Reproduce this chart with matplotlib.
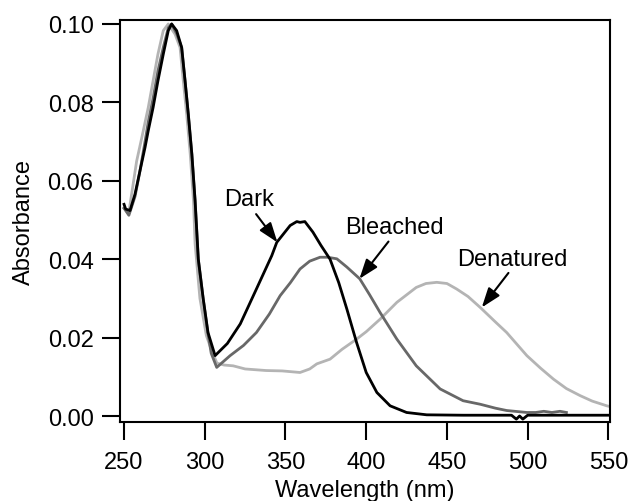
import matplotlib
matplotlib.use('Agg')
import matplotlib.pyplot as plt

plt.rcParams['font.family'] = ['Liberation Sans', 'DejaVu Sans']
plt.rcParams['font.size'] = 17

# Dark spectrum
wl_dark = [250, 251, 253.7, 256.8, 259.9, 263, 265, 268, 271, 274.3, 277.4, 279.5,
           282.6, 285.7, 287.8, 289.8, 292, 294, 296, 299, 302, 306.4, 314, 322,
           332, 341.5, 344.6, 352.9, 357, 359, 362, 367, 372, 377.6, 383, 388, 394,
           400, 406.6, 414.8, 425, 437.5, 460, 490, 493, 495, 497, 500, 550]
abs_dark = [0.054, 0.0528, 0.0524, 0.0566, 0.0626, 0.0685, 0.0728, 0.0787, 0.0855,
            0.0923, 0.0983, 0.1, 0.0983, 0.094, 0.0855, 0.077, 0.0668, 0.055, 0.040,
            0.030, 0.0213, 0.0154, 0.0185, 0.0235, 0.0324, 0.0409, 0.0443, 0.0486,
            0.0496, 0.0494, 0.0496, 0.0469, 0.0435, 0.040, 0.034, 0.0273, 0.0188,
            0.0111, 0.006, 0.0026, 0.0009, 0.0003, 0.0002, 0.0002, -0.0008, 0.0,
            -0.0008, 0.0002, 0.0002]

# Bleached spectrum
wl_bleached = [250, 253, 256.8, 259.9, 263, 265, 268, 271, 274.3, 277.4, 279.5, 282.6,
               285.7, 287.8, 289.8, 292, 294, 296, 299, 302, 304, 307.4, 315.7, 324,
               332, 340, 346.7, 353, 359, 365, 371.4, 376, 381.8, 388, 396, 402,
               408.6, 419, 431, 445.8, 460, 470.6, 480, 487, 499.5, 505, 510, 515,
               520, 524]
abs_bleached = [0.053, 0.0512, 0.056, 0.0626, 0.070, 0.075, 0.081, 0.088, 0.094, 0.099,
                0.1, 0.0975, 0.094, 0.0855, 0.077, 0.0668, 0.055, 0.040, 0.030, 0.021,
                0.016, 0.0124, 0.0154, 0.018, 0.0213, 0.026, 0.0307, 0.034, 0.0375,
                0.0395, 0.0405, 0.0405, 0.0401, 0.038, 0.035, 0.031, 0.0264, 0.0196,
                0.0128, 0.0069, 0.0039, 0.003, 0.002, 0.0014, 0.0009, 0.0009, 0.0012,
                0.0009, 0.0012, 0.0009]

# Denatured spectrum
wl_denat = [250, 253, 257.8, 261, 265, 268, 271, 274.3, 277.4, 281.6, 284.7, 286.7,
            288.8, 291, 293, 294, 297, 301, 304, 307.5, 312, 317.6, 325, 338, 348,
            359, 365, 369.4, 377.6, 385, 394, 400, 408.6, 419, 431, 437, 443.7, 450,
            456, 463, 470.6, 480, 487, 499.5, 508, 516, 524, 532.5, 540, 549, 550]
abs_denat = [0.053, 0.052, 0.065, 0.071, 0.0787, 0.0855, 0.0923, 0.0983, 0.1, 0.0974,
             0.094, 0.0855, 0.077, 0.0668, 0.055, 0.044, 0.030, 0.0205, 0.017, 0.0135,
             0.013, 0.0128, 0.012, 0.0116, 0.0115, 0.0111, 0.012, 0.0133, 0.0145,
             0.017, 0.0196, 0.0215, 0.0247, 0.029, 0.0328, 0.0338, 0.0341, 0.0338,
             0.0324, 0.0305, 0.0277, 0.024, 0.0213, 0.0154, 0.0122, 0.0094, 0.007,
             0.0052, 0.0038, 0.0026, 0.0025]

x_ticks = [250, 300, 350, 400, 450, 500, 550]
y_ticks = [0.00, 0.02, 0.04, 0.06, 0.08, 0.10]

fig = plt.figure(figsize=(6.29, 5.02), dpi=100)
ax = fig.add_axes([120 / 629, 79 / 502, 490 / 629, 402 / 502])

ax.plot(wl_denat, abs_denat, color='#b4b4b4', lw=2)
ax.plot(wl_bleached, abs_bleached, color='#686868', lw=2)
ax.plot(wl_dark, abs_dark, color='black', lw=2)

ax.set_xlim(247.5, 551)
ax.set_ylim(-0.00153, 0.10102)
ax.set_xticks(x_ticks)
ax.set_yticks(y_ticks)
ax.set_yticklabels(['%.2f' % v for v in y_ticks])
ax.tick_params(direction='out', length=13, width=1.5, labelsize=17)
ax.tick_params(axis='x', pad=8)
ax.tick_params(axis='y', pad=6)
for s in ax.spines.values():
    s.set_linewidth(1.5)

ax.set_xlabel('Wavelength (nm)', fontsize=17, labelpad=4)
ax.set_ylabel('Absorbance', fontsize=17, labelpad=9)

arrow = dict(arrowstyle='-|>,head_length=0.7,head_width=0.25', color='black',
             lw=1.5, shrinkA=0, shrinkB=0, mutation_scale=17)
ax.annotate('', xy=(345, 0.0443), xytext=(331.8, 0.0515), arrowprops=arrow)
ax.text(327.4, 0.0554, 'Dark', ha='center', va='center', fontsize=17)
ax.annotate('', xy=(395.8, 0.035), xytext=(413.8, 0.0445), arrowprops=arrow)
ax.text(417.6, 0.0482, 'Bleached', ha='center', va='center', fontsize=17)
ax.annotate('', xy=(471.6, 0.0277), xytext=(488.1, 0.0365), arrowprops=arrow)
ax.text(490.7, 0.040, 'Denatured', ha='center', va='center', fontsize=17)

fig.savefig('out.png', dpi=100)
